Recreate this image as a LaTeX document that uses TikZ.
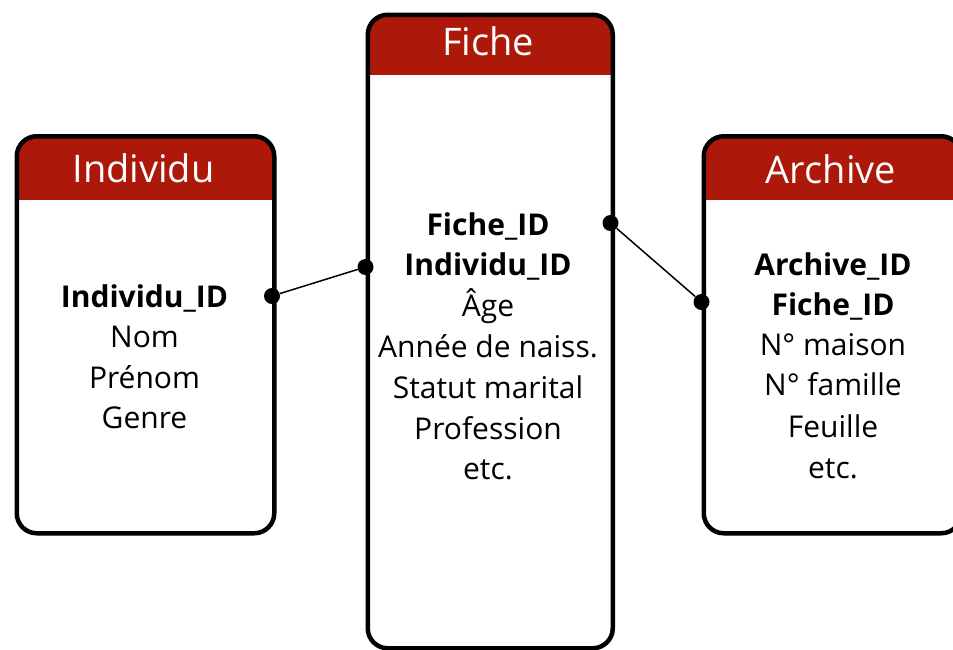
\documentclass[tikz,border=0pt]{standalone}
\usepackage{fontspec}
\setmainfont{Open Sans}
\definecolor{hdr}{RGB}{172,24,10}
\begin{document}
\begin{tikzpicture}[x=1pt,y=-1pt,
  tbl/.style={draw=black, line width=4.5pt, rounded corners=20pt, fill=white,
    anchor=north west, inner sep=0pt},
  hdrtxt/.style={anchor=base, text=white, font=\fontsize{38}{38}\selectfont, inner sep=0pt},
  fld/.style={anchor=base, text=black, font=\fontsize{30}{30}\selectfont, inner sep=0pt},
  key/.style={fld, font=\fontsize{30}{30}\selectfont\bfseries},
  dot/.style={circle, fill=black, minimum size=16pt, inner sep=0pt},
  link/.style={draw=black, line width=1.5pt}]
\useasboundingbox (0,0) rectangle (953,649);

% tables
\node[tbl, minimum width=257.5pt, minimum height=397pt,
  path picture={\fill[hdr, sharp corners] ([xshift=-5pt,yshift=5pt]path picture bounding box.north west) rectangle ([xshift=5pt,yshift=-64pt]path picture bounding box.north east);}]
  (ind) at (14.5,134) {};
\node[tbl, minimum width=245pt, minimum height=633.5pt,
  path picture={\fill[hdr, sharp corners] ([xshift=-5pt,yshift=5pt]path picture bounding box.north west) rectangle ([xshift=5pt,yshift=-60.5pt]path picture bounding box.north east);}]
  (fic) at (365.5,12.5) {};
\node[tbl, minimum width=257.5pt, minimum height=397pt,
  path picture={\fill[hdr, sharp corners] ([xshift=-5pt,yshift=5pt]path picture bounding box.north west) rectangle ([xshift=5pt,yshift=-64pt]path picture bounding box.north east);}]
  (arc) at (701.5,134) {};

% headers
\node[hdrtxt] (indh) at (143.5,182) {Individu};
\node[hdrtxt] (fich) at (488,55) {Fiche};
\node[hdrtxt] (arch) at (831,183) {Archive};

% Individu fields
\node[key] (i1) at (144.5,307) {Individu\_ID};
\node[fld] (i2) at (144.5,347) {Nom};
\node[fld] (i3) at (144.5,388) {Prénom};
\node[fld] (i4) at (144.5,428) {Genre};

% Fiche fields
\node[key] (f1) at (488,235) {Fiche\_ID};
\node[key] (f2) at (488,275) {Individu\_ID};
\node[fld] (f3) at (488,316) {Âge};
\node[fld] (f4) at (488,357) {Année de naiss.};
\node[fld] (f5) at (488,398) {Statut marital};
\node[fld] (f6) at (488,439) {Profession};
\node[fld] (f7) at (488,479) {etc.};

% Archive fields
\node[key] (a1) at (833,275) {Archive\_ID};
\node[key] (a2) at (833,315) {Fiche\_ID};
\node[fld] (a3) at (833,355) {N° maison};
\node[fld] (a4) at (833,395) {N° famille};
\node[fld] (a5) at (833,437) {Feuille};
\node[fld] (a6) at (833,478) {etc.};

% connectors
\node[dot] (d1) at (272,296) {};
\node[dot] (d2) at (365.5,267) {};
\node[dot] (d3) at (610.5,223) {};
\node[dot] (d4) at (701.5,302) {};
\draw[link] (d1) -- (d2);
\draw[link] (d3) -- (d4);
\end{tikzpicture}
\end{document}
